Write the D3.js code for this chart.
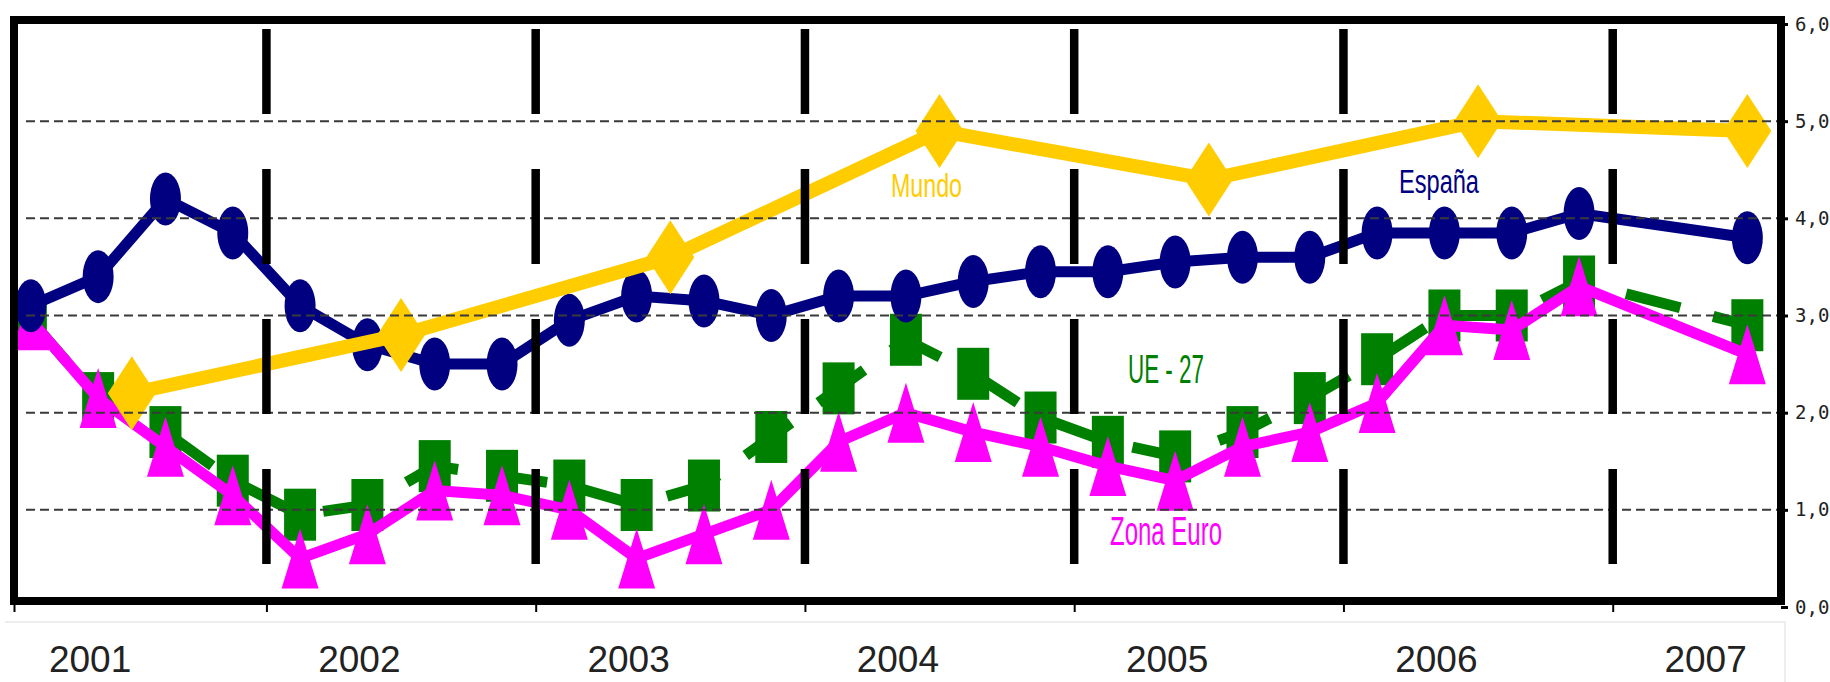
<!DOCTYPE html>
<html>
<head>
<meta charset="utf-8">
<script src="https://cdn.jsdelivr.net/npm/d3@7/dist/d3.min.js"></script>
<style>
  html, body { margin: 0; padding: 0; background: #ffffff; }
  svg { display: block; }
</style>
</head>
<body>
<svg id="chart" width="1830" height="682"></svg>
<script>
// ---- data -------------------------------------------------------------
// Quarterly growth (% y/y): index 0..23 = 2001 T1 .. 2006 T4, then 2007.
const quarterPos = d3.range(24).concat([25.5]);
const espana   = [3.1, 3.4, 4.2, 3.85, 3.1, 2.7, 2.5, 2.5, 2.95, 3.2, 3.15, 3.0,
                  3.2, 3.2, 3.35, 3.45, 3.45, 3.55, 3.6, 3.6, 3.85, 3.85, 3.85, 4.05, 3.8];
const ue27     = [2.95, 2.15, 1.8, 1.3, 0.95, 1.05, 1.45, 1.35, 1.25, 1.05, 1.25, 1.75,
                  2.25, 2.75, 2.4, 1.95, 1.7, 1.55, 1.8, 2.15, 2.55, 3.0, 3.0, 3.35, 2.9];
const zonaEuro = [2.95, 2.15, 1.65, 1.15, 0.5, 0.75, 1.2, 1.15, 1.0, 0.5, 0.75, 1.0,
                  1.7, 2.0, 1.8, 1.65, 1.45, 1.3, 1.65, 1.8, 2.1, 2.9, 2.85, 3.3, 2.6];
// Annual world growth, placed at the middle of each year
const mundoPos = [1.5, 5.5, 9.5, 13.5, 17.5, 21.5, 25.5];
const mundo    = [2.2, 2.8, 3.6, 4.9, 4.4, 5.0, 4.9];

const years        = ["2001", "2002", "2003", "2004", "2005", "2006", "2007"];
const yearLabelPos = [0.88, 4.88, 8.88, 12.88, 16.88, 20.88, 24.88];
const yearBounds   = [3.5, 7.5, 11.5, 15.5, 19.5, 23.5];
const yTicks       = [0, 1, 2, 3, 4, 5, 6];
const yTickLabels  = ["0,0", "1,0", "2,0", "3,0", "4,0", "5,0", "6,0"];

const seriesNames = ["Mundo", "España", "UE - 27", "Zona Euro"];

// ---- scales -----------------------------------------------------------
const svg = d3.select("#chart");
const x = d3.scaleLinear().domain([-0.25, 26]).range([14, 1781]);
const y = d3.scaleLinear().domain([0, 6]).range([607, 24]);
const frame = { left: 14, right: 1781, top: 20, bottom: 601 };

const NAVY = "#000080", GOLD = "#FFCC00", GREEN = "#008000", PINK = "#FF00FF";

// faint separator below the plot
svg.append("path")
  .attr("d", `M5,622H1785V682`)
  .attr("fill", "none").attr("stroke", "#eeeeee").attr("stroke-width", 2);

const plot = svg.append("g");

function pts(pos, vals) { return pos.map((p, i) => [x(p), y(vals[i])]); }
const line = d3.line();

// UE-27: long-dashed line, rectangular markers
const gUE = plot.append("g");
gUE.append("path").attr("d", line(pts(quarterPos, ue27)))
  .attr("fill", "none").attr("stroke", GREEN).attr("stroke-width", 11)
  .attr("stroke-dasharray", "56,34").attr("stroke-linejoin", "round");
gUE.selectAll("rect").data(ue27).join("rect")
  .attr("x", (d, i) => x(quarterPos[i]) - 16).attr("y", d => y(d) - 26)
  .attr("width", 32).attr("height", 52).attr("fill", GREEN);

// Zona Euro: solid line, triangle markers
const gZE = plot.append("g");
gZE.append("path").attr("d", line(pts(quarterPos, zonaEuro)))
  .attr("fill", "none").attr("stroke", PINK).attr("stroke-width", 11)
  .attr("stroke-linejoin", "round");
gZE.selectAll("path.m").data(zonaEuro).join("path").attr("class", "m")
  .attr("d", (d, i) => {
    const cx = x(quarterPos[i]), cy = y(d);
    return `M${cx},${cy - 30}L${cx + 18.5},${cy + 30}L${cx - 18.5},${cy + 30}Z`;
  })
  .attr("fill", PINK);

// España: solid line, oval markers
const gES = plot.append("g");
gES.append("path").attr("d", line(pts(quarterPos, espana)))
  .attr("fill", "none").attr("stroke", NAVY).attr("stroke-width", 11)
  .attr("stroke-linejoin", "round");
gES.selectAll("ellipse").data(espana).join("ellipse")
  .attr("cx", (d, i) => x(quarterPos[i])).attr("cy", d => y(d))
  .attr("rx", 15.5).attr("ry", 26.5).attr("fill", NAVY);

// Mundo: solid line, diamond markers
const gMU = plot.append("g");
gMU.append("path").attr("d", line(pts(mundoPos, mundo)))
  .attr("fill", "none").attr("stroke", GOLD).attr("stroke-width", 14)
  .attr("stroke-linejoin", "round");
gMU.selectAll("path.m").data(mundo).join("path").attr("class", "m")
  .attr("d", (d, i) => {
    const cx = x(mundoPos[i]), cy = y(d);
    return `M${cx},${cy - 37}L${cx + 24},${cy}L${cx},${cy + 37}L${cx - 24},${cy}Z`;
  })
  .attr("fill", GOLD);

// ---- grid and year separators (drawn over the series) ------------------
svg.append("g").selectAll("line").data([1, 2, 3, 4, 5]).join("line")
  .attr("x1", 26).attr("x2", frame.right)
  .attr("y1", d => y(d)).attr("y2", d => y(d))
  .attr("stroke", "#3a3a3a").attr("stroke-width", 2)
  .attr("stroke-dasharray", "9,5");

svg.append("g").selectAll("line").data(yearBounds).join("line")
  .attr("x1", d => x(d)).attr("x2", d => x(d))
  .attr("y1", 564).attr("y2", 29)
  .attr("stroke", "#000").attr("stroke-width", 8.5)
  .attr("stroke-dasharray", "95,55");

// ---- frame and axes ---------------------------------------------------
svg.append("rect")
  .attr("x", frame.left).attr("y", frame.top)
  .attr("width", frame.right - frame.left).attr("height", frame.bottom - frame.top)
  .attr("fill", "none").attr("stroke", "#000").attr("stroke-width", 8);

const yAxis = svg.append("g")
  .attr("transform", `translate(${frame.right},0)`)
  .call(d3.axisRight(y).tickValues(yTicks)
    .tickFormat((d, i) => yTickLabels[i]).tickSize(7).tickPadding(7));
yAxis.select(".domain").remove();
yAxis.selectAll(".tick line").attr("stroke", "#000").attr("stroke-width", 3);
yAxis.selectAll(".tick text")
  .attr("font-family", "'DejaVu Sans Mono', monospace")
  .attr("font-size", 19).attr("fill", "#222");

const xAxis = svg.append("g")
  .attr("transform", `translate(0,${frame.bottom})`)
  .call(d3.axisBottom(x).tickValues([-0.25].concat(yearBounds))
    .tickFormat("").tickSize(11));
xAxis.select(".domain").remove();
xAxis.selectAll(".tick line").attr("stroke", "#000").attr("stroke-width", 2);

svg.append("g").selectAll("text").data(years).join("text")
  .attr("x", (d, i) => x(yearLabelPos[i])).attr("y", 672)
  .attr("text-anchor", "middle")
  .attr("font-family", "'Liberation Sans', Arial, sans-serif")
  .attr("font-size", 37).attr("fill", "#222")
  .text(d => d);

// ---- series labels ----------------------------------------------------
const nameStyle = [
  { x: 891,  y: 197, size: 33, len: 71,  color: GOLD },
  { x: 1399, y: 193, size: 33, len: 80,  color: NAVY },
  { x: 1128, y: 383, size: 40, len: 76,  color: GREEN },
  { x: 1110, y: 545, size: 40, len: 112, color: PINK }
];
svg.append("g").selectAll("text").data(seriesNames).join("text")
  .attr("x", (d, i) => nameStyle[i].x).attr("y", (d, i) => nameStyle[i].y)
  .attr("font-family", "'Liberation Sans', Arial, sans-serif")
  .attr("font-size", (d, i) => nameStyle[i].size)
  .attr("fill", (d, i) => nameStyle[i].color)
  .attr("textLength", (d, i) => nameStyle[i].len)
  .attr("lengthAdjust", "spacingAndGlyphs")
  .text(d => d);
</script>
</body>
</html>
